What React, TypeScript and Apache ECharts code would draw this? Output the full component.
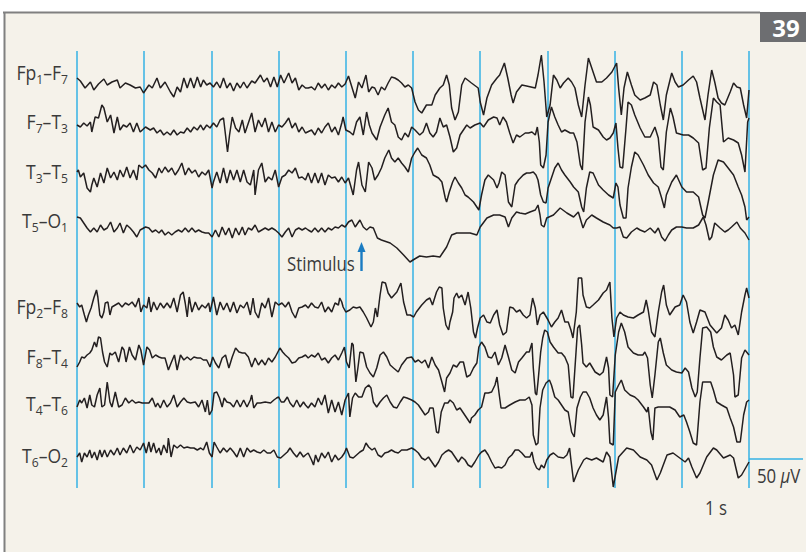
import React, { useEffect, useRef } from 'react';
import * as echarts from 'echarts';

type Pt = [number, number];

// ---- data -------------------------------------------------------------
const SECONDS = [0, 1, 2, 3, 4, 5, 6, 7, 8, 9, 10];
const CHANNELS = ['Fp1–F7', 'F7–T3', 'T3–T5', 'T5–O1', 'Fp2–F8', 'F8–T4', 'T4–T6', 'T6–O2'];
const LABEL_PARTS: [string, string, string, string][] = [
  ['Fp', '1', 'F', '7'], ['F', '7', 'T', '3'], ['T', '3', 'T', '5'], ['T', '5', 'O', '1'],
  ['Fp', '2', 'F', '8'], ['F', '8', 'T', '4'], ['T', '4', 'T', '6'], ['T', '6', 'O', '2'],
];
const SCALE_UNITS = 29; // trace amplitude units equal to 50 µV

// [time s, deflection]
const fp1f7: Pt[] = [[0,7],[0.05,4],[0.12,-3],[0.2,3],[0.25,-5],[0.32,1],[0.4,6],[0.45,0],[0.52,3],[0.6,5],[0.64,-3],[0.72,2],[0.79,0],[0.87,-3],[0.94,-2],[0.99,-8],[1.07,0],[1.12,-3],[1.19,7],[1.24,-3],[1.31,3],[1.39,-7],[1.44,-12],[1.49,-2],[1.54,-7],[1.59,7],[1.64,-3],[1.69,7],[1.74,-3],[1.79,8],[1.84,-2],[1.88,5],[1.93,0],[1.98,2],[2.03,-2],[2.08,3],[2.13,-3],[2.18,7],[2.23,-3],[2.28,2],[2.33,-6],[2.38,2],[2.43,-3],[2.48,3],[2.53,-3],[2.6,4],[2.65,2],[2.73,10],[2.78,3],[2.83,7],[2.88,-2],[2.93,8],[2.98,-2],[3.03,10],[3.08,2],[3.15,12],[3.2,2],[3.25,7],[3.3,-5],[3.35,0],[3.4,-3],[3.44,-3],[3.49,-2],[3.54,-5],[3.59,2],[3.64,-3],[3.69,1],[3.74,-5],[3.79,0],[3.84,-3],[3.89,2],[3.94,-2],[3.99,1],[4.04,9],[4.09,-2],[4.14,-13],[4.19,3],[4.24,-3],[4.3,10],[4.34,-7],[4.39,-2],[4.43,-3],[4.48,-10],[4.53,-2],[4.58,-5],[4.63,2],[4.68,8],[4.73,7],[4.78,5],[4.83,2],[4.88,-2],[4.93,0],[4.98,-3],[5.03,-17],[5.08,-25],[5.13,-28],[5.2,-20],[5.28,-20],[5.33,-10],[5.4,-3],[5.45,0],[5.5,10],[5.54,0],[5.575,-23],[5.625,-35],[5.675,-27],[5.725,0],[5.775,7],[5.87,2],[5.97,-3],[6.0,-17],[6.05,-30],[6.1,-13],[6.17,0],[6.25,7],[6.29,10],[6.36,22],[6.41,7],[6.46,-10],[6.49,-18],[6.54,-7],[6.62,0],[6.69,-1],[6.82,-3],[6.86,10],[6.91,30],[6.95,3],[6.99,-32],[7.04,-20],[7.09,10],[7.14,5],[7.19,-3],[7.24,2],[7.31,7],[7.36,3],[7.41,-3],[7.46,-20],[7.51,-32],[7.56,0],[7.61,27],[7.66,17],[7.73,3],[7.81,3],[7.88,7],[7.96,13],[8.03,22],[8.06,-3],[8.1,-30],[8.14,-3],[8.19,13],[8.25,0],[8.3,-10],[8.38,-15],[8.45,-13],[8.53,-10],[8.58,3],[8.63,0],[8.68,-20],[8.725,-35],[8.77,-10],[8.85,12],[8.9,3],[8.95,-2],[9.02,0],[9.1,5],[9.17,9],[9.22,3],[9.27,-13],[9.345,-35],[9.39,-10],[9.445,15],[9.49,3],[9.54,-13],[9.59,-18],[9.64,-20],[9.72,-7],[9.77,2],[9.82,-2],[9.87,-3],[9.92,-20],[9.965,-33],[10,-5]];

const f7t3: Pt[] = [[0,2],[0.05,0],[0.1,4],[0.15,1],[0.2,5],[0.22,-5],[0.27,10],[0.32,9],[0.37,22],[0.4,19],[0.45,5],[0.5,12],[0.55,-6],[0.6,10],[0.64,-3],[0.69,2],[0.74,0],[0.79,4],[0.84,-5],[0.89,4],[0.94,-5],[1.02,0],[1.09,-3],[1.14,-1],[1.19,-6],[1.24,-3],[1.29,-8],[1.34,-5],[1.39,-8],[1.44,-3],[1.49,-8],[1.54,-5],[1.59,-6],[1.64,-1],[1.69,-5],[1.74,0],[1.79,-3],[1.84,2],[1.88,-3],[1.93,2],[1.98,-1],[2.03,4],[2.08,0],[2.13,7],[2.18,9],[2.21,-8],[2.24,-25],[2.27,-8],[2.31,10],[2.36,-1],[2.41,-5],[2.46,7],[2.5,-6],[2.55,4],[2.6,14],[2.65,-5],[2.7,7],[2.75,0],[2.8,9],[2.85,-5],[2.9,5],[2.95,-5],[3.0,2],[3.05,0],[3.1,4],[3.15,9],[3.2,-1],[3.25,4],[3.3,-5],[3.35,0],[3.4,-6],[3.49,-3],[3.54,-8],[3.59,-1],[3.64,-6],[3.69,0],[3.74,4],[3.79,-5],[3.84,0],[3.89,-8],[3.94,4],[3.96,10],[4.0,-3],[4.06,-5],[4.11,-8],[4.16,5],[4.21,10],[4.26,-8],[4.31,15],[4.35,2],[4.39,-6],[4.46,-13],[4.51,0],[4.58,12],[4.63,19],[4.68,5],[4.73,2],[4.78,-10],[4.83,-13],[4.88,-6],[4.93,-10],[4.98,0],[5.03,-3],[5.1,-8],[5.15,-5],[5.2,4],[5.25,-6],[5.3,-10],[5.35,-5],[5.4,9],[5.45,0],[5.5,2],[5.55,-10],[5.6,-25],[5.65,-21],[5.7,-8],[5.75,-3],[5.8,2],[5.85,-1],[5.92,2],[6.0,4],[6.05,0],[6.12,7],[6.2,10],[6.25,9],[6.29,2],[6.34,10],[6.39,5],[6.44,-6],[6.49,-16],[6.54,-8],[6.59,-10],[6.67,-6],[6.72,-6],[6.77,-5],[6.82,-8],[6.85,0],[6.88,-15],[6.9,-38],[6.94,-41],[6.98,-28],[7.01,5],[7.06,20],[7.11,10],[7.16,2],[7.21,-5],[7.26,-3],[7.34,-6],[7.39,-6],[7.44,-15],[7.49,-38],[7.52,-43],[7.56,5],[7.61,30],[7.64,22],[7.68,0],[7.76,-3],[7.83,-10],[7.88,-13],[7.93,-11],[7.98,-6],[8.02,4],[8.05,-21],[8.08,-40],[8.12,-41],[8.17,-1],[8.2,25],[8.25,22],[8.3,12],[8.38,-1],[8.45,-10],[8.53,-10],[8.6,0],[8.65,-11],[8.69,-40],[8.725,-43],[8.77,-5],[8.83,19],[8.87,10],[8.92,-6],[9.02,-8],[9.1,-8],[9.17,-11],[9.25,-16],[9.31,-43],[9.36,-41],[9.41,-1],[9.47,29],[9.52,25],[9.57,22],[9.62,-15],[9.69,-11],[9.77,-13],[9.84,-16],[9.89,-28],[9.94,-45],[9.98,5],[10,9]];

const t3t5: Pt[] = [[0,3],[0.02,5],[0.05,-2],[0.1,2],[0.15,-13],[0.2,-17],[0.22,-10],[0.25,-3],[0.3,-12],[0.35,2],[0.4,-8],[0.45,7],[0.5,-3],[0.55,3],[0.6,-5],[0.64,5],[0.69,-2],[0.74,8],[0.79,-3],[0.84,5],[0.89,-5],[0.92,10],[0.97,7],[1.02,10],[1.07,5],[1.12,2],[1.17,-3],[1.22,7],[1.26,2],[1.31,8],[1.36,3],[1.41,7],[1.46,0],[1.51,5],[1.56,12],[1.61,0],[1.66,7],[1.71,2],[1.76,5],[1.81,-2],[1.86,3],[1.91,0],[1.96,5],[2.01,-13],[2.03,-7],[2.08,3],[2.13,-8],[2.18,7],[2.23,-8],[2.28,5],[2.33,-5],[2.38,5],[2.43,-7],[2.48,5],[2.53,-7],[2.58,-10],[2.63,5],[2.65,-20],[2.7,5],[2.75,12],[2.8,-7],[2.85,-2],[2.9,-5],[2.95,5],[3.0,-12],[3.05,-2],[3.1,0],[3.15,5],[3.2,2],[3.25,7],[3.3,-3],[3.35,-2],[3.4,-5],[3.44,2],[3.49,-8],[3.54,2],[3.59,-8],[3.64,2],[3.69,-10],[3.74,0],[3.79,-3],[3.84,-2],[3.89,-7],[3.94,-2],[3.99,-8],[4.04,-3],[4.09,-15],[4.11,-20],[4.16,5],[4.19,13],[4.24,-10],[4.29,-17],[4.34,13],[4.39,7],[4.43,-5],[4.48,0],[4.53,7],[4.58,17],[4.64,25],[4.68,17],[4.73,13],[4.78,17],[4.83,12],[4.88,8],[4.93,3],[4.98,17],[5.03,23],[5.07,27],[5.13,20],[5.2,17],[5.25,10],[5.3,0],[5.38,-3],[5.43,-7],[5.48,-23],[5.5,-27],[5.54,-17],[5.59,-7],[5.625,-2],[5.675,-8],[5.725,-13],[5.775,-20],[5.82,-22],[5.9,-27],[5.95,-32],[5.98,-35],[6.02,-20],[6.07,-5],[6.12,0],[6.2,-5],[6.25,-13],[6.28,-8],[6.32,3],[6.37,0],[6.42,-27],[6.47,-32],[6.52,-10],[6.57,-5],[6.64,0],[6.69,2],[6.74,2],[6.79,3],[6.83,0],[6.86,-5],[6.9,-20],[6.94,-27],[6.98,-28],[7.01,-13],[7.06,-3],[7.11,7],[7.16,12],[7.21,5],[7.26,0],[7.34,-7],[7.39,-12],[7.46,-17],[7.51,-32],[7.54,-37],[7.58,-13],[7.63,3],[7.68,2],[7.76,-10],[7.83,-15],[7.91,-20],[7.98,-23],[8.02,-8],[8.05,-12],[8.08,-30],[8.13,-43],[8.17,-43],[8.2,-13],[8.25,8],[8.3,23],[8.35,20],[8.43,10],[8.5,0],[8.58,-8],[8.65,-12],[8.7,-23],[8.74,-33],[8.77,-20],[8.85,-7],[8.92,0],[9.0,-12],[9.07,-17],[9.17,-17],[9.25,-22],[9.31,-40],[9.345,-43],[9.39,-28],[9.47,0],[9.54,15],[9.62,13],[9.69,7],[9.77,0],[9.84,-12],[9.89,-20],[9.94,-32],[9.965,-45],[10,-42]];

const t5o1: Pt[] = [[0,11],[0.05,10],[0.1,5],[0.15,0],[0.2,-4],[0.25,0],[0.3,-4],[0.35,3],[0.4,-2],[0.45,0],[0.5,6],[0.55,-4],[0.6,0],[0.64,5],[0.69,-5],[0.74,3],[0.79,0],[0.84,-4],[0.89,-9],[0.94,-2],[1.02,1],[1.07,0],[1.12,-4],[1.17,-2],[1.22,-5],[1.26,-2],[1.31,-7],[1.36,-4],[1.41,-7],[1.46,-4],[1.51,-2],[1.56,-4],[1.61,0],[1.66,-4],[1.71,0],[1.76,-4],[1.81,-2],[1.86,-4],[1.91,-5],[1.96,-5],[2.01,-9],[2.06,-2],[2.11,-9],[2.16,1],[2.21,-7],[2.26,0],[2.31,-10],[2.36,0],[2.41,-7],[2.46,1],[2.5,-7],[2.55,0],[2.6,-2],[2.65,3],[2.7,-4],[2.75,-2],[2.8,0],[2.85,-2],[2.9,0],[2.95,-2],[3.0,-5],[3.05,-9],[3.1,-4],[3.15,0],[3.2,-9],[3.25,-2],[3.3,0],[3.35,-2],[3.4,0],[3.44,-2],[3.49,-4],[3.54,0],[3.59,-4],[3.64,0],[3.69,-4],[3.74,0],[3.79,-2],[3.84,1],[3.89,0],[3.94,3],[3.99,1],[4.04,6],[4.09,8],[4.14,1],[4.21,8],[4.26,1],[4.31,-2],[4.36,1],[4.41,0],[4.47,-10],[4.53,-12],[4.66,-15],[4.76,-20],[4.86,-27],[4.955,-34],[5.0,-32],[5.1,-28],[5.2,-29],[5.3,-28],[5.4,-29],[5.45,-24],[5.5,-19],[5.575,-7],[5.65,-5],[5.75,-5],[5.85,-5],[5.95,-7],[6.0,1],[6.1,10],[6.2,13],[6.29,13],[6.37,11],[6.42,1],[6.47,10],[6.54,16],[6.59,15],[6.67,14],[6.74,16],[6.82,18],[6.86,23],[6.89,13],[6.91,3],[6.95,1],[6.99,10],[7.09,13],[7.19,20],[7.29,15],[7.39,11],[7.46,16],[7.53,0],[7.58,8],[7.66,13],[7.73,10],[7.83,6],[7.93,3],[7.98,0],[8.03,0],[8.08,1],[8.13,-9],[8.18,-10],[8.25,-4],[8.33,0],[8.38,-2],[8.45,-4],[8.53,0],[8.6,-5],[8.65,0],[8.7,-9],[8.75,-13],[8.8,-7],[8.85,-2],[8.92,1],[9.0,1],[9.07,0],[9.17,0],[9.25,3],[9.32,11],[9.36,3],[9.41,-12],[9.445,-9],[9.49,5],[9.57,0],[9.64,-4],[9.69,-2],[9.74,1],[9.82,6],[9.87,0],[9.94,-5],[10,-12]];

const fp2f8: Pt[] = [[0,4],[0.04,0],[0.07,2],[0.11,-8],[0.14,-15],[0.17,-8],[0.21,-1],[0.25,9],[0.29,17],[0.31,10],[0.34,-8],[0.37,-11],[0.4,-5],[0.42,4],[0.46,5],[0.49,-8],[0.52,0],[0.57,2],[0.62,4],[0.67,0],[0.72,4],[0.77,2],[0.82,5],[0.87,0],[0.92,9],[0.95,-5],[0.99,2],[1.04,-1],[1.07,10],[1.1,-5],[1.14,5],[1.19,-3],[1.24,4],[1.29,-1],[1.34,4],[1.39,-1],[1.44,9],[1.49,-5],[1.54,12],[1.58,15],[1.61,4],[1.64,-10],[1.67,10],[1.71,-5],[1.76,5],[1.81,-3],[1.86,2],[1.91,-1],[1.96,4],[1.98,-5],[2.03,10],[2.08,-8],[2.13,5],[2.18,-3],[2.23,4],[2.28,-5],[2.33,5],[2.38,-6],[2.43,2],[2.48,-1],[2.53,5],[2.58,-8],[2.62,9],[2.65,-5],[2.7,-11],[2.75,4],[2.8,-1],[2.85,9],[2.9,-10],[2.95,5],[3.0,2],[3.05,4],[3.1,0],[3.15,5],[3.2,-5],[3.25,-11],[3.3,-1],[3.35,0],[3.4,2],[3.44,-1],[3.49,4],[3.54,0],[3.59,-1],[3.64,5],[3.69,-5],[3.74,0],[3.79,-5],[3.84,4],[3.89,2],[3.91,9],[3.94,5],[3.96,0],[4.0,-5],[4.06,-3],[4.11,0],[4.16,-1],[4.21,0],[4.26,-5],[4.31,-11],[4.375,-20],[4.41,-15],[4.44,-1],[4.47,-10],[4.51,12],[4.54,25],[4.59,24],[4.63,14],[4.68,9],[4.76,15],[4.82,24],[4.86,5],[4.91,-8],[4.96,-8],[5.01,-10],[5.05,-5],[5.13,2],[5.2,7],[5.25,9],[5.29,2],[5.35,15],[5.39,20],[5.43,19],[5.45,-1],[5.49,-18],[5.53,-23],[5.55,-15],[5.59,-5],[5.61,9],[5.65,14],[5.68,9],[5.725,12],[5.775,2],[5.82,15],[5.86,-1],[5.9,-25],[5.93,-31],[5.96,-21],[6.0,-11],[6.05,-8],[6.1,-15],[6.15,-16],[6.2,-8],[6.25,-3],[6.29,-18],[6.34,-28],[6.39,-25],[6.44,0],[6.49,-1],[6.54,-5],[6.59,-3],[6.64,-8],[6.69,-11],[6.74,-8],[6.78,9],[6.82,-1],[6.85,-18],[6.89,-8],[6.94,-5],[7.01,-13],[7.06,-20],[7.11,-15],[7.16,-11],[7.21,-3],[7.26,-15],[7.31,-15],[7.35,-23],[7.38,-31],[7.43,-5],[7.46,29],[7.51,29],[7.53,12],[7.58,0],[7.63,-1],[7.68,2],[7.76,7],[7.83,14],[7.88,17],[7.91,22],[7.93,25],[7.96,-11],[7.99,-30],[8.03,-11],[8.08,-5],[8.13,-8],[8.2,-10],[8.28,-11],[8.35,-8],[8.43,-5],[8.47,7],[8.5,-3],[8.55,-25],[8.6,-30],[8.65,-5],[8.7,15],[8.73,22],[8.77,2],[8.82,-8],[8.9,0],[8.97,2],[9.02,12],[9.07,5],[9.12,-15],[9.17,-26],[9.22,-15],[9.27,-3],[9.345,-5],[9.42,-18],[9.52,-26],[9.59,-21],[9.64,-8],[9.69,-13],[9.74,-21],[9.79,-18],[9.84,-28],[9.89,-5],[9.94,12],[9.965,19],[10,9]];

const f8t4: Pt[] = [[0,-10],[0.04,-5],[0.07,0],[0.11,-1],[0.15,2],[0.19,4],[0.22,7],[0.26,15],[0.29,10],[0.32,20],[0.35,19],[0.38,5],[0.41,-5],[0.45,-10],[0.49,4],[0.52,2],[0.57,5],[0.62,-5],[0.67,10],[0.7,7],[0.73,-5],[0.78,10],[0.82,2],[0.87,-3],[0.92,12],[0.95,7],[0.99,-8],[1.04,10],[1.08,7],[1.12,-1],[1.17,2],[1.22,0],[1.26,-1],[1.31,-1],[1.36,-13],[1.4,-6],[1.45,2],[1.49,-13],[1.54,2],[1.59,-3],[1.64,0],[1.69,-3],[1.74,0],[1.79,-1],[1.84,-1],[1.88,-3],[1.93,-3],[1.98,-10],[2.02,0],[2.06,-6],[2.11,-11],[2.16,-1],[2.21,2],[2.26,-11],[2.31,0],[2.36,9],[2.41,5],[2.46,4],[2.5,4],[2.55,0],[2.6,-10],[2.65,-1],[2.7,-8],[2.75,-3],[2.8,-8],[2.85,-1],[2.9,-5],[2.95,0],[3.02,9],[3.06,5],[3.1,2],[3.15,-1],[3.2,-6],[3.25,-5],[3.3,-1],[3.35,0],[3.4,2],[3.44,-1],[3.49,2],[3.54,0],[3.59,4],[3.64,-3],[3.69,-1],[3.74,-6],[3.79,-1],[3.84,2],[3.89,-3],[3.94,4],[3.98,10],[4.01,-5],[4.05,-11],[4.09,14],[4.11,12],[4.15,-25],[4.18,-11],[4.21,5],[4.26,4],[4.31,-10],[4.36,-16],[4.41,-20],[4.46,-11],[4.51,2],[4.56,5],[4.61,0],[4.66,-8],[4.71,-11],[4.78,-15],[4.83,-8],[4.91,-1],[4.98,0],[5.03,-5],[5.08,-3],[5.13,-6],[5.18,-3],[5.23,-11],[5.28,0],[5.33,-8],[5.38,-13],[5.43,-25],[5.47,-35],[5.5,-21],[5.55,-16],[5.6,-8],[5.65,-10],[5.7,-5],[5.75,-5],[5.8,-20],[5.85,-18],[5.9,-11],[5.95,-6],[5.98,10],[6.02,15],[6.07,10],[6.12,0],[6.17,-1],[6.22,5],[6.27,-8],[6.32,-1],[6.37,12],[6.42,0],[6.47,-13],[6.52,-16],[6.57,-5],[6.62,-1],[6.69,5],[6.73,5],[6.77,14],[6.79,-11],[6.82,-36],[6.84,-38],[6.86,-25],[6.9,5],[6.93,19],[6.96,27],[7.0,25],[7.04,15],[7.09,10],[7.16,4],[7.21,4],[7.26,0],[7.31,-8],[7.35,-40],[7.38,-41],[7.41,-11],[7.45,29],[7.48,32],[7.51,12],[7.53,-6],[7.58,-10],[7.63,-6],[7.71,-15],[7.78,-18],[7.83,-15],[7.88,0],[7.91,-11],[7.93,-38],[7.97,-40],[8.01,2],[8.06,25],[8.1,34],[8.15,25],[8.2,10],[8.28,4],[8.35,2],[8.42,2],[8.45,5],[8.49,-1],[8.53,-28],[8.56,-41],[8.6,-18],[8.65,15],[8.68,19],[8.725,4],[8.77,-8],[8.85,-13],[8.92,-15],[9.0,-16],[9.05,-11],[9.1,-15],[9.15,-31],[9.2,-40],[9.23,-35],[9.27,-1],[9.31,29],[9.37,30],[9.43,25],[9.47,10],[9.52,0],[9.59,-3],[9.67,2],[9.72,4],[9.77,-18],[9.79,-40],[9.84,-38],[9.89,-1],[9.94,7],[10,2]];

const t4t6: Pt[] = [[0,-4],[0.04,3],[0.07,0],[0.11,5],[0.15,-5],[0.19,8],[0.22,-2],[0.26,-4],[0.3,8],[0.34,15],[0.37,-4],[0.41,-2],[0.45,21],[0.49,1],[0.52,-4],[0.57,11],[0.62,-4],[0.67,-2],[0.72,5],[0.77,0],[0.82,3],[0.87,0],[0.92,1],[0.97,0],[1.02,0],[1.07,0],[1.12,5],[1.17,-4],[1.2,0],[1.24,-5],[1.29,3],[1.34,-4],[1.39,0],[1.44,8],[1.49,-4],[1.54,1],[1.59,5],[1.64,1],[1.69,0],[1.76,1],[1.81,-4],[1.86,3],[1.91,-9],[1.94,3],[1.97,-12],[2.01,-7],[2.04,10],[2.08,11],[2.12,5],[2.16,-4],[2.19,5],[2.23,1],[2.28,0],[2.33,-4],[2.38,3],[2.43,-4],[2.48,3],[2.53,-4],[2.58,3],[2.6,8],[2.63,-5],[2.68,0],[2.73,0],[2.8,1],[2.88,0],[2.93,3],[2.97,5],[3.0,6],[3.04,1],[3.08,1],[3.13,6],[3.17,0],[3.22,-4],[3.27,3],[3.32,-4],[3.37,1],[3.4,-2],[3.44,-5],[3.49,0],[3.54,-4],[3.59,5],[3.64,-2],[3.69,8],[3.74,-10],[3.79,3],[3.84,-9],[3.89,1],[3.94,-12],[3.99,3],[4.04,10],[4.06,-14],[4.1,5],[4.14,10],[4.19,6],[4.24,6],[4.29,15],[4.34,18],[4.375,15],[4.41,1],[4.46,-4],[4.51,1],[4.56,5],[4.61,8],[4.66,1],[4.71,-4],[4.76,-5],[4.81,1],[4.86,6],[4.91,5],[4.98,3],[5.03,1],[5.08,-2],[5.13,-7],[5.18,-12],[5.23,-9],[5.25,-5],[5.3,-5],[5.35,-29],[5.38,-30],[5.42,-9],[5.47,0],[5.52,0],[5.55,3],[5.6,0],[5.65,-7],[5.7,-5],[5.75,-10],[5.8,-15],[5.85,-20],[5.87,-15],[5.92,-12],[5.97,-7],[6.02,-4],[6.07,10],[6.12,10],[6.17,11],[6.22,18],[6.25,26],[6.28,10],[6.31,-5],[6.37,-5],[6.44,-2],[6.52,1],[6.59,3],[6.67,3],[6.73,6],[6.77,-2],[6.79,-32],[6.83,-42],[6.86,-40],[6.89,-5],[6.93,13],[6.98,20],[7.03,23],[7.06,18],[7.11,6],[7.16,3],[7.21,-2],[7.26,-7],[7.31,-9],[7.36,-29],[7.4,-34],[7.44,-5],[7.49,6],[7.53,11],[7.58,11],[7.63,5],[7.68,-5],[7.73,-12],[7.78,-17],[7.83,-12],[7.88,6],[7.91,-15],[7.93,-40],[7.98,-42],[8.01,11],[8.06,18],[8.1,23],[8.15,13],[8.23,8],[8.3,6],[8.35,3],[8.43,-4],[8.48,-9],[8.5,-4],[8.54,-29],[8.57,-37],[8.6,-5],[8.65,-4],[8.725,-4],[8.82,-4],[8.9,-7],[8.97,-14],[9.03,-12],[9.07,-19],[9.12,-29],[9.17,-40],[9.22,-42],[9.27,1],[9.31,21],[9.37,21],[9.43,21],[9.47,13],[9.52,1],[9.59,-2],[9.67,-5],[9.72,-15],[9.77,-24],[9.82,-39],[9.87,-39],[9.92,-12],[9.965,1],[10,3]];

const t6o2: Pt[] = [[0,-5],[0.04,-1],[0.07,-10],[0.11,-1],[0.15,-5],[0.19,2],[0.22,-6],[0.26,0],[0.3,-8],[0.34,2],[0.37,-5],[0.41,2],[0.45,-5],[0.5,2],[0.55,-3],[0.6,4],[0.64,-3],[0.69,4],[0.74,-1],[0.79,7],[0.84,-1],[0.89,5],[0.94,2],[0.99,9],[1.03,-1],[1.07,10],[1.1,0],[1.14,9],[1.18,-1],[1.22,4],[1.25,-3],[1.29,7],[1.34,-1],[1.36,14],[1.4,-5],[1.44,7],[1.49,4],[1.54,7],[1.59,4],[1.64,5],[1.69,4],[1.74,4],[1.79,2],[1.84,4],[1.88,2],[1.93,10],[1.97,-1],[2.01,-5],[2.04,10],[2.08,5],[2.13,-1],[2.18,4],[2.23,0],[2.28,4],[2.33,0],[2.38,-5],[2.43,4],[2.48,-5],[2.53,4],[2.58,0],[2.63,2],[2.68,0],[2.73,-1],[2.78,2],[2.83,-1],[2.88,-1],[2.93,2],[2.98,-5],[3.03,-6],[3.08,-3],[3.13,0],[3.17,4],[3.22,-1],[3.27,-5],[3.32,0],[3.37,-5],[3.4,-3],[3.44,-1],[3.49,-8],[3.52,-13],[3.55,-3],[3.59,-10],[3.64,-1],[3.69,-6],[3.74,0],[3.79,-10],[3.84,-3],[3.89,-8],[3.94,-5],[3.98,-1],[4.01,4],[4.06,-5],[4.11,-6],[4.16,-3],[4.21,0],[4.26,2],[4.3,9],[4.34,5],[4.39,2],[4.43,4],[4.48,-3],[4.53,-5],[4.58,-1],[4.63,0],[4.68,2],[4.73,0],[4.78,-1],[4.83,2],[4.91,2],[4.98,4],[5.03,2],[5.08,-1],[5.13,-6],[5.18,-8],[5.23,-5],[5.28,-10],[5.33,-15],[5.38,-10],[5.43,-3],[5.48,0],[5.53,2],[5.575,0],[5.625,-5],[5.675,-10],[5.725,-5],[5.775,-8],[5.82,-13],[5.87,-15],[5.92,-10],[5.98,-3],[6.02,0],[6.07,2],[6.12,-3],[6.17,-10],[6.22,-16],[6.27,-15],[6.32,-16],[6.37,-13],[6.42,-6],[6.47,-3],[6.52,2],[6.57,2],[6.62,-1],[6.67,-5],[6.74,-5],[6.77,0],[6.8,-10],[6.84,-16],[6.88,-18],[6.91,-13],[6.95,-16],[6.99,-8],[7.04,-3],[7.09,-1],[7.16,-5],[7.24,-6],[7.29,-3],[7.33,4],[7.35,-8],[7.39,-30],[7.46,-18],[7.54,-8],[7.58,-6],[7.66,-8],[7.73,-6],[7.83,-10],[7.88,0],[7.93,-5],[7.98,-35],[8.06,-5],[8.18,4],[8.28,2],[8.38,-5],[8.48,-8],[8.55,-13],[8.63,-28],[8.68,-21],[8.78,-3],[8.87,-1],[8.97,-6],[9.05,-10],[9.1,-6],[9.15,-15],[9.22,-26],[9.27,-21],[9.37,-5],[9.47,4],[9.52,2],[9.62,-6],[9.72,-3],[9.77,-6],[9.84,-26],[9.89,-23],[10,-10]];

const TRACES: Pt[][] = [fp1f7, f7t3, t3t5, t5o1, fp2f8, f8t4, t4t6, t6o2];

// ---- layout (pixels) ---------------------------------------------------
const W = 806;
const H = 552;
const PLOT_LEFT = 77;
const PLOT_RIGHT = 749;
const PLOT_TOP = 51;
const PLOT_BOTTOM = 488;
const TRACE_Y = [85, 127, 175, 228, 307, 357, 403, 452];
const LABEL_Y = [72, 121, 171, 220, 306, 356, 403, 455];

const FONT = "'Open Sans', 'Noto Sans', 'Liberation Sans', sans-serif";
const TEXT = '#3a3a3a';
const BLUE = '#35b2e4';
const ARROW_BLUE = '#1b7cc2';
const NARROW = 0.84;

export default function App() {
  const ref = useRef<HTMLDivElement>(null);

  useEffect(() => {
    if (!ref.current) return;
    const chart = echarts.init(ref.current, undefined, { renderer: 'svg' });

    const rich = {
      n: { fontSize: 19.5, fontFamily: FONT, lineHeight: 28, verticalAlign: 'middle', fill: TEXT },
      s: { fontSize: 13.5, fontFamily: FONT, lineHeight: 12, verticalAlign: 'bottom', fill: TEXT },
    };

    const labels = LABEL_PARTS.map((p, i) => ({
      type: 'text',
      x: 68,
      y: LABEL_Y[i],
      scaleX: 0.9,
      z: 10,
      silent: true,
      style: {
        text: `{n|${p[0]}}{s|${p[1]}}{n|–${p[2]}}{s|${p[3]}}`,
        rich,
        align: 'right',
        textAlign: 'right',
        verticalAlign: 'middle',
        textVerticalAlign: 'middle',
        fill: TEXT,
      },
    }));

    const series = TRACES.map((pts, i) => ({
      type: 'line',
      name: CHANNELS[i],
      data: pts.map(([t, v]) => [t, v - TRACE_Y[i]]),
      showSymbol: false,
      symbol: 'none',
      clip: false,
      silent: true,
      z: 5,
      lineStyle: { color: '#231f20', width: 1.5 },
    }));

    const plain = (text: string, x: number, y: number, align: string) => ({
      type: 'text',
      x,
      y,
      scaleX: NARROW,
      z: 10,
      silent: true,
      style: { text, fill: TEXT, fontSize: 20, fontFamily: FONT, align, textAlign: align, verticalAlign: 'middle', textVerticalAlign: 'middle' },
    });

    chart.setOption({
      animation: false,
      backgroundColor: '#ffffff',
      grid: { left: PLOT_LEFT, right: W - PLOT_RIGHT, top: PLOT_TOP, bottom: H - PLOT_BOTTOM, containLabel: false },
      xAxis: {
        type: 'value',
        min: SECONDS[0],
        max: SECONDS[SECONDS.length - 1],
        interval: 1,
        axisLine: { show: false },
        axisTick: { show: false },
        axisLabel: { show: false },
        splitLine: { show: true, showMinLine: true, showMaxLine: true, lineStyle: { color: BLUE, width: 1.5 } },
      },
      yAxis: {
        type: 'value',
        min: -PLOT_BOTTOM,
        max: -PLOT_TOP,
        show: false,
        splitLine: { show: false },
      },
      series,
      graphic: [
        { type: 'rect', z: -10, silent: true, shape: { x: 4, y: 12, width: W - 4, height: H - 12 }, style: { fill: '#f5f2ea' } },
        { type: 'line', z: 10, silent: true, shape: { x1: 3, y1: 12.5, x2: 760, y2: 12.5 }, style: { stroke: '#808080', lineWidth: 2 } },
        { type: 'line', z: 10, silent: true, shape: { x1: 4.5, y1: 12, x2: 4.5, y2: H }, style: { stroke: '#808080', lineWidth: 2 } },
        { type: 'rect', z: 10, silent: true, shape: { x: 760, y: 12, width: 46, height: 30 }, style: { fill: '#6d6e71' } },
        { type: 'text', z: 11, silent: true, x: 786, y: 27.5, style: { text: '39', fill: '#ffffff', fontSize: 24, fontWeight: 'bold', fontFamily: "'Open Sans', 'Liberation Sans', sans-serif", align: 'center', textAlign: 'center', verticalAlign: 'middle', textVerticalAlign: 'middle' } },
        ...labels,
        plain('Stimulus', 287, 263, 'left'),
        { type: 'rect', z: 10, silent: true, shape: { x: 360.3, y: 250, width: 2.4, height: 21 }, style: { fill: ARROW_BLUE } },
        { type: 'polygon', z: 10, silent: true, shape: { points: [[357.5, 252], [361.5, 242], [365.5, 252]] }, style: { fill: ARROW_BLUE } },
        { type: 'line', z: 10, silent: true, shape: { x1: PLOT_RIGHT, y1: PLOT_BOTTOM - SCALE_UNITS, x2: 803, y2: PLOT_BOTTOM - SCALE_UNITS }, style: { stroke: BLUE, lineWidth: 1.5 } },
        {
          type: 'text', z: 10, silent: true, x: 757, y: 475, scaleX: NARROW,
          style: {
            text: '{a|50 }{i|μ}{a|V}',
            rich: { a: { fontSize: 20, fontFamily: FONT, fill: TEXT }, i: { fontSize: 20, fontFamily: FONT, fontStyle: 'italic', fill: TEXT } },
            fill: TEXT, align: 'left', textAlign: 'left', verticalAlign: 'middle', textVerticalAlign: 'middle',
          },
        },
        plain('1 s', 716, 507, 'center'),
      ],
    });

    return () => chart.dispose();
  }, []);

  return <div ref={ref} style={{ position: 'absolute', left: 0, top: 0, width: W, height: H }} />;
}
